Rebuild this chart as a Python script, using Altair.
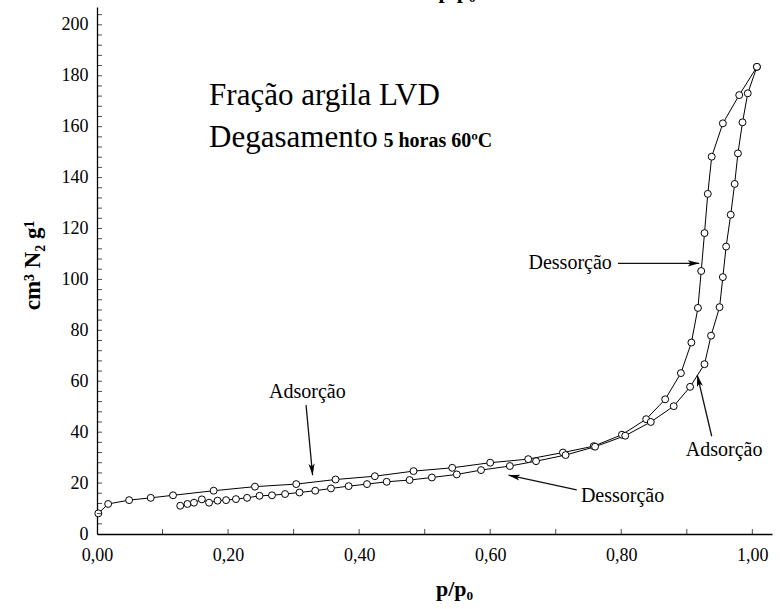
import math
import altair as alt
import pandas as pd

# ---- isotherm data (p/p0, cm3 N2 g-1) ----
s1_x = [0.002, 0.017, 0.049, 0.082, 0.116, 0.178, 0.241, 0.304, 0.364, 0.424,
        0.483, 0.542, 0.600, 0.658, 0.711, 0.758, 0.801, 0.838, 0.867, 0.891,
        0.907, 0.917, 0.922, 0.927, 0.932, 0.938, 0.955, 0.980, 1.007]
s1_y = [8.1, 11.8, 13.3, 14.2, 15.2, 17.0, 18.6, 19.6, 21.4, 22.7,
        24.7, 26.0, 28.0, 29.4, 32.0, 34.5, 39.0, 45.1, 52.9, 63.2,
        75.2, 88.8, 103.3, 118.2, 133.6, 148.2, 161.3, 172.4, 183.5]

s2_x = [0.127, 0.138, 0.148, 0.160, 0.171, 0.184, 0.197, 0.212, 0.229, 0.248,
        0.267, 0.287, 0.309, 0.333, 0.357, 0.384, 0.412, 0.442, 0.477, 0.511,
        0.549, 0.586, 0.630, 0.670, 0.715, 0.760, 0.806, 0.845, 0.880, 0.905,
        0.927, 0.937, 0.950, 0.955, 0.960, 0.967, 0.973, 0.978, 0.985, 0.993,
        1.007]
s2_y = [11.1, 11.8, 12.3, 13.6, 12.3, 13.1, 13.3, 13.7, 14.2, 15.0,
        15.2, 15.7, 16.3, 17.0, 17.9, 18.8, 19.6, 20.5, 21.2, 22.2,
        23.4, 25.1, 26.7, 28.6, 31.0, 34.3, 38.6, 44.0, 50.2, 57.8,
        66.7, 77.9, 89.1, 100.9, 112.9, 125.4, 137.5, 149.5, 161.7, 173.1,
        183.5]

# ---- axes ----
x_labels = [0.0, 0.2, 0.4, 0.6, 0.8, 1.0]
x_tick_pos = [0.1, 0.2, 0.3, 0.4, 0.5, 0.6, 0.7, 0.8, 0.9, 1.0]
y_labels = [0, 20, 40, 60, 80, 100, 120, 140, 160, 180, 200]
y_tick_pos = [4, 8, 12, 16, 20, 24, 28, 32, 36, 40, 44, 48, 52, 56, 60, 64, 68, 72, 76, 80,
              84, 88, 92, 96, 100, 104, 108, 112, 116, 120, 124, 128, 132, 136, 140, 144,
              148, 152, 156, 160, 164, 168, 172, 176, 180, 184, 188, 192, 196, 200, 204]

# ---- annotations ----
ann_text = ["Adsorção", "Dessorção", "Dessorção", "Adsorção"]
ann_x = [0.321, 0.802, 0.722, 0.957]
ann_y = [55.7, 14.9, 106.3, 32.9]
arr_tail_x = [0.319, 0.732, 0.795, 0.938]
arr_tail_y = [50.6, 17.3, 106.3, 38.4]
arr_head_x = [0.329, 0.628, 0.919, 0.916]
arr_head_y = [23.1, 23.1, 106.3, 62.4]

title_lines = ["Fração argila LVD", "Degasamento"]
title_x = [0.171, 0.171]
title_y = [168.5, 152.0]
sub_text = ["5 horas 60ºC"]
sub_x = [0.437]
sub_y = [152.0]

XMAX, YMAX = 1.03, 207
W, H = 675, 527
PXX, PXY = W / XMAX, H / YMAX
SERIF = "Liberation Serif, Times New Roman, serif"

pts = pd.DataFrame({
    "x": s1_x + s2_x,
    "y": s1_y + s2_y,
    "s": ["a"] * len(s1_x) + ["b"] * len(s2_x),
    "i": list(range(len(s1_x))) + list(range(len(s2_x))),
})

xs = alt.Scale(domain=[0, XMAX], nice=False, zero=False)
ys = alt.Scale(domain=[0, YMAX], nice=False, zero=False)

X = alt.X("x:Q", scale=xs, axis=alt.Axis(
    values=x_labels, labelExpr="replace(format(datum.value, '.2f'), '.', ',')",
    title="p/p₀", titleFont=SERIF, titleFontSize=22, titleFontWeight="bold",
    titleX=357, titleY=61, titleBaseline="alphabetic", titleAlign="center",
    labelPadding=12, labelFlush=False))
Y = alt.Y("y:Q", scale=ys, axis=alt.Axis(
    values=y_labels, title="cm³ N₂ g¹", titleFont=SERIF, titleFontSize=23,
    titleFontWeight="bold", titleX=-65, titleY=258, titleAngle=270,
    titleAlign="center", titleBaseline="middle", labelPadding=9, labelFlush=False))

lines = alt.Chart(pts).mark_line(color="black", strokeWidth=1).encode(
    x=X, y=Y, detail="s:N", order="i:Q")
markers = alt.Chart(pts).mark_point(
    shape="circle", filled=True, fill="white", stroke="black", strokeWidth=1,
    size=48, opacity=1).encode(x="x:Q", y="y:Q")

ytk = alt.Chart(pd.DataFrame({"y": y_tick_pos})).mark_tick(
    orient="horizontal", color="black", size=5, thickness=1).encode(
    y="y:Q", x=alt.value(2.5))
xtk = alt.Chart(pd.DataFrame({"x": x_tick_pos})).mark_tick(
    orient="vertical", color="black", size=5, thickness=1).encode(
    x="x:Q", y=alt.value(H - 2.5))

# arrows
arr = pd.DataFrame({"x1": arr_tail_x, "y1": arr_tail_y, "x2": arr_head_x, "y2": arr_head_y})
heads = []
for tx, ty, hx, hy in zip(arr_tail_x, arr_tail_y, arr_head_x, arr_head_y):
    dx = (hx - tx) * PXX
    dy = -(hy - ty) * PXY
    L = math.hypot(dx, dy)
    ang = math.degrees(math.atan2(dx, -dy)) % 360
    back = 6.0
    cx = hx - (dx / L) * back / PXX
    cy = hy + (dy / L) * back / PXY
    heads.append({"x": cx, "y": cy, "ang": ang})
heads = pd.DataFrame(heads)

rules = alt.Chart(arr).mark_rule(color="#111", strokeWidth=1.3).encode(
    x="x1:Q", y="y1:Q", x2="x2:Q", y2="y2:Q")
arrow_heads = alt.Chart(heads).mark_point(
    shape="M0,-1L0.5,0.9L0,0.45L-0.5,0.9Z", filled=True, color="black",
    size=150, opacity=1).encode(
    x="x:Q", y="y:Q", angle=alt.Angle("ang:Q", scale=None))

labels = alt.Chart(pd.DataFrame({"t": ann_text, "x": ann_x, "y": ann_y})).mark_text(
    font=SERIF, fontSize=20, color="black", align="center", baseline="middle").encode(
    x="x:Q", y="y:Q", text="t:N")

titles = alt.Chart(pd.DataFrame({"t": title_lines, "x": title_x, "y": title_y})).mark_text(
    font=SERIF, fontSize=31, color="black", align="left", baseline="alphabetic").encode(
    x="x:Q", y="y:Q", text="t:N")
sub = alt.Chart(pd.DataFrame({"t": sub_text, "x": sub_x, "y": sub_y})).mark_text(
    font=SERIF, fontSize=20, fontWeight="bold", color="black", align="left",
    baseline="alphabetic").encode(x="x:Q", y="y:Q", text="t:N")

top_title = alt.Chart(pd.DataFrame({"t": ["p/p₀"]})).mark_text(
    font=SERIF, fontSize=22, fontWeight="bold", color="black", align="center",
    baseline="alphabetic").encode(x=alt.value(360), y=alt.value(-9), text="t:N")

chart = alt.layer(lines, rules, arrow_heads, markers, ytk, xtk, labels, titles, sub, top_title).properties(
    width=W, height=H,
    autosize=alt.AutoSizeParams(type="none"),
    padding={"left": 97, "top": 7, "right": 8, "bottom": 75},
    background="white",
).configure_view(stroke=None).configure_axis(
    grid=False, ticks=False, domainColor="black", domainWidth=1.3,
    labelColor="black", titleColor="black", labelFont=SERIF, labelFontSize=18,
)

chart.save("out.html", embed_options={"renderer": "svg", "actions": False})
